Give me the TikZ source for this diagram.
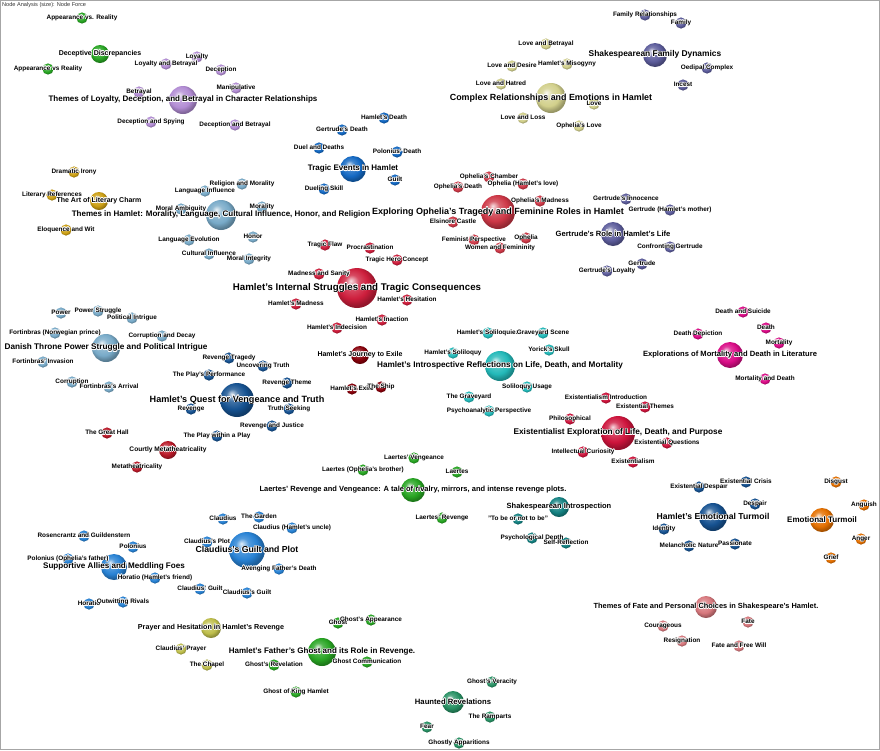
\documentclass[tikz,border=0pt]{standalone}
\usepackage{fontspec}
\setmainfont{Liberation Sans}
\usepackage{contour}
\contourlength{0.6pt}
\contournumber{12}
\pgfdeclarelayer{bg}
\pgfdeclarelayer{fg}
\pgfsetlayers{bg,main,fg}
\definecolor{cGreen}{RGB}{40,165,35}
\definecolor{cPurple}{RGB}{178,140,212}
\definecolor{cSteel}{RGB}{120,170,200}
\definecolor{cGold}{RGB}{205,160,20}
\definecolor{cBlue}{RGB}{20,105,195}
\definecolor{cRed}{RGB}{205,30,60}
\definecolor{cDarkRed}{RGB}{135,0,10}
\definecolor{cCyan}{RGB}{35,185,185}
\definecolor{cCrimson}{RGB}{205,20,60}
\definecolor{cMagenta}{RGB}{218,12,135}
\definecolor{cSlate}{RGB}{92,92,155}
\definecolor{cKhaki}{RGB}{210,208,140}
\definecolor{cRose}{RGB}{205,55,70}
\definecolor{cNavy}{RGB}{22,82,145}
\definecolor{cCourt}{RGB}{185,25,40}
\definecolor{cBright}{RGB}{40,130,212}
\definecolor{cOlive}{RGB}{190,190,75}
\definecolor{cSea}{RGB}{40,145,100}
\definecolor{cTeal}{RGB}{20,130,130}
\definecolor{cOrange}{RGB}{228,112,0}
\definecolor{cRosy}{RGB}{215,120,125}
\definecolor{cEdge}{RGB}{225,225,225}
\makeatletter
\pgfdeclareradialshading[tikz@ball]{sph}{\pgfpoint{-8bp}{9bp}}{%
  color(0bp)=(tikz@ball!15!white);
  color(9bp)=(tikz@ball!80!white);
  color(19bp)=(tikz@ball);
  color(27bp)=(tikz@ball!72!black);
  color(50bp)=(tikz@ball!72!black)}
\tikzset{sph color/.code={\colorlet{tikz@ball}{#1}\def\tikz@shading{sph}\tikz@addmode{\tikz@mode@shadetrue}}}
\makeatother
\tikzset{
  sphere/.style={circle, inner sep=0pt, draw=none},
  lbl/.style={inner sep=0pt, text=black},
  edge/.style={draw=cEdge, line width=0.6pt},
}
% name, x, y, radius, colour, font size, label
\newcommand\Nd[7]{%
  \node[sphere, minimum size=#4*2pt, sph color=#5] (#1) at (#2,#3) {};
  \begin{pgfonlayer}{fg}
    \node[lbl, font=\bfseries\fontsize{#6pt}{#6pt}\selectfont] (#1-l) at (#2,#3) {\contour{white}{#7}};
  \end{pgfonlayer}}
% small node: name, x, y, colour, label
\newcommand\Ns[5]{\Nd{#1}{#2}{#3}{5.6}{#4}{6.4}{#5}}
\begin{document}
\begin{tikzpicture}[x=1pt,y=-1pt]
\useasboundingbox (0,0) rectangle (880,750);
\fill[white] (0,0) rectangle (880,750);
\draw[black!35, line width=1pt] (0.5,0.5) rectangle (879.5,749.5);
\node[anchor=west, inner sep=0pt, text=black!80, font=\fontsize{5.6pt}{6pt}\selectfont] (cap) at (2,5.5) {Node Analysis (size): Node Force};

% green top-left
\Nd{dd}{100}{54}{9}{cGreen}{7}{Deceptive Discrepancies}
\Ns{avr1}{82}{18}{cGreen}{Appearance vs. Reality}
\Ns{avr2}{48}{69}{cGreen}{Appearance vs Reality}

% purple
\Nd{tl}{183}{100}{14}{cPurple}{8}{Themes of Loyalty, Deception, and Betrayal in Character Relationships}
\Ns{lab}{166}{64}{cPurple}{Loyalty and Betrayal}
\Ns{loy}{197}{57}{cPurple}{Loyalty}
\Ns{dec}{221}{70}{cPurple}{Deception}
\Ns{man}{236}{88}{cPurple}{Manipulative}
\Ns{bet}{139}{92}{cPurple}{Betrayal}
\Ns{das}{151}{122}{cPurple}{Deception and Spying}
\Ns{dab}{235}{125}{cPurple}{Deception and Betrayal}

% steel: themes in Hamlet
\Nd{th}{221}{215}{15}{cSteel}{8}{Themes in Hamlet: Morality, Language, Cultural Influence, Honor, and Religion}
\Ns{rm}{242}{184}{cSteel}{Religion and Morality}
\Ns{li}{205}{191}{cSteel}{Language Influence}
\Ns{ma}{181}{209}{cSteel}{Moral Ambiguity}
\Ns{mor}{262}{207}{cSteel}{Morality}
\Ns{hon}{253}{237}{cSteel}{Honor}
\Ns{le}{189}{240}{cSteel}{Language Evolution}
\Ns{ci}{209}{254}{cSteel}{Cultural Influence}
\Ns{mi}{249}{259}{cSteel}{Moral Integrity}

% gold
\Nd{lc}{99}{201}{9}{cGold}{7}{The Art of Literary Charm}
\Ns{di}{74}{172}{cGold}{Dramatic Irony}
\Ns{lr}{52}{195}{cGold}{Literary References}
\Ns{ew}{66}{230}{cGold}{Eloquence and Wit}

% tragic events
\Nd{te}{353}{169}{13}{cBlue}{8}{Tragic Events in Hamlet}
\Ns{hd}{384}{118}{cBlue}{Hamlet's Death}
\Ns{gd}{342}{130}{cBlue}{Gertrude's Death}
\Ns{dud}{319}{148}{cBlue}{Duel and Deaths}
\Ns{pd}{397}{152}{cBlue}{Polonius' Death}
\Ns{gui}{395}{180}{cBlue}{Guilt}
\Ns{ds}{324}{189}{cBlue}{Dueling Skill}

% internal struggles
\Nd{is}{357}{288}{20}{cRed}{9.7}{Hamlet's Internal Struggles and Tragic Consequences}
\Ns{tf}{325}{245}{cRed}{Tragic Flaw}
\Ns{pro}{370}{248}{cRed}{Procrastination}
\Ns{thc}{397}{260}{cRed}{Tragic Hero Concept}
\Ns{mas}{319}{274}{cRed}{Madness and Sanity}
\Ns{hm}{296}{304}{cRed}{Hamlet's Madness}
\Ns{hh}{407}{300}{cRed}{Hamlet's Hesitation}
\Ns{hi}{382}{320}{cRed}{Hamlet's Inaction}
\Ns{hin}{337}{328}{cRed}{Hamlet's Indecision}

% journey to exile
\Nd{je}{360}{355}{9}{cDarkRed}{7}{Hamlet's Journey to Exile}
\Ns{hx}{352}{389}{cDarkRed}{Hamlet's Exile}
\Ns{sh}{381}{387}{cDarkRed}{The Ship}

% introspective
\Nd{ir}{500}{366}{15}{cCyan}{8.2}{Hamlet's Introspective Reflections on Life, Death, and Mortality}
\Ns{hs1}{488}{333}{cCyan}{Hamlet's Soliloquies}
\Ns{gs}{543}{333}{cCyan}{Graveyard Scene}
\Ns{ys}{549}{350}{cCyan}{Yorick's Skull}
\Ns{hs2}{453}{353}{cCyan}{Hamlet's Soliloquy}
\Ns{su}{527}{387}{cCyan}{Soliloquy Usage}
\Ns{tg}{469}{397}{cCyan}{The Graveyard}
\Ns{pp}{489}{411}{cCyan}{Psychoanalytic Perspective}

% existentialist
\Nd{ex}{618}{433}{17}{cCrimson}{8.3}{Existentialist Exploration of Life, Death, and Purpose}
\Ns{eint}{606}{398}{cCrimson}{Existentialism Introduction}
\Ns{eth}{645}{407}{cCrimson}{Existential Themes}
\Ns{phi}{570}{419}{cCrimson}{Philosophical}
\Ns{icur}{583}{452}{cCrimson}{Intellectual Curiosity}
\Ns{eq}{667}{443}{cCrimson}{Existential Questions}
\Ns{exm}{633}{462}{cCrimson}{Existentialism}

% mortality
\Nd{mo}{730}{355}{13}{cMagenta}{7.6}{Explorations of Mortality and Death in Literature}
\Ns{das2}{743}{312}{cMagenta}{Death and Suicide}
\Ns{dea}{766}{328}{cMagenta}{Death}
\Ns{ddp}{698}{334}{cMagenta}{Death Depiction}
\Ns{mty}{779}{343}{cMagenta}{Mortality}
\Ns{mad}{765}{379}{cMagenta}{Mortality and Death}

% family dynamics
\Nd{fd}{655}{55}{12}{cSlate}{8.4}{Shakespearean Family Dynamics}
\Ns{fr}{645}{15}{cSlate}{Family Relationships}
\Ns{fam}{681}{23}{cSlate}{Family}
\Ns{oc}{707}{68}{cSlate}{Oedipal Complex}
\Ns{inc}{683}{85}{cSlate}{Incest}

% complex relationships
\Nd{cr}{551}{98}{15}{cKhaki}{8.9}{Complex Relationships and Emotions in Hamlet}
\Ns{lbt}{546}{44}{cKhaki}{Love and Betrayal}
\Ns{lde}{512}{66}{cKhaki}{Love and Desire}
\Ns{hmi}{567}{64}{cKhaki}{Hamlet's Misogyny}
\Ns{lha}{501}{84}{cKhaki}{Love and Hatred}
\Ns{lov}{594}{104}{cKhaki}{Love}
\Ns{llo}{523}{118}{cKhaki}{Love and Loss}
\Ns{olv}{579}{126}{cKhaki}{Ophelia's Love}

% ophelia
\Nd{op}{498}{212}{17}{cRose}{9}{Exploring Ophelia's Tragedy and Feminine Roles in Hamlet}
\Ns{och}{489}{177}{cRose}{Ophelia's Chamber}
\Ns{ode}{458}{187}{cRose}{Ophelia's Death}
\Ns{ohl}{523}{184}{cRose}{Ophelia (Hamlet's love)}
\Ns{oma}{540}{201}{cRose}{Ophelia's Madness}
\Ns{elc}{453}{222}{cRose}{Elsinore Castle}
\Ns{fp}{474}{240}{cRose}{Feminist Perspective}
\Ns{oph}{526}{238}{cRose}{Ophelia}
\Ns{wf}{500}{248}{cRose}{Women and Femininity}

% gertrude
\Nd{gr}{613}{234}{12}{cSlate}{7.6}{Gertrude's Role in Hamlet's Life}
\Ns{gin}{626}{199}{cSlate}{Gertrude's Innocence}
\Ns{ghm}{670}{210}{cSlate}{Gertrude (Hamlet's mother)}
\Ns{cg}{670}{247}{cSlate}{Confronting Gertrude}
\Ns{ger}{642}{264}{cSlate}{Gertrude}
\Ns{gl}{607}{271}{cSlate}{Gertrude's Loyalty}

% danish throne
\Nd{dt}{106}{348}{14}{cSteel}{8.2}{Danish Throne Power Struggle and Political Intrigue}
\Ns{pw}{61}{313}{cSteel}{Power}
\Ns{ps}{98}{311}{cSteel}{Power Struggle}
\Ns{pi}{132}{318}{cSteel}{Political Intrigue}
\Ns{fnp}{55}{333}{cSteel}{Fortinbras (Norwegian prince)}
\Ns{cad}{162}{336}{cSteel}{Corruption and Decay}
\Ns{fi}{43}{362}{cSteel}{Fortinbras' Invasion}
\Ns{cor}{72}{382}{cSteel}{Corruption}
\Ns{fa}{109}{387}{cSteel}{Fortinbras's Arrival}

% quest
\Nd{qv}{237}{400}{17}{cNavy}{9.1}{Hamlet's Quest for Vengeance and Truth}
\Ns{rt}{229}{358}{cNavy}{Revenge Tragedy}
\Ns{ut}{263}{366}{cNavy}{Uncovering Truth}
\Ns{ppf}{209}{375}{cNavy}{The Play's Performance}
\Ns{rth}{287}{383}{cNavy}{Revenge Theme}
\Ns{rev}{191}{409}{cNavy}{Revenge}
\Ns{ts}{289}{409}{cNavy}{Truth Seeking}
\Ns{rj}{272}{426}{cNavy}{Revenge and Justice}
\Ns{pwp}{217}{436}{cNavy}{The Play within a Play}

% courtly
\Nd{cm}{168}{450}{9}{cCourt}{6.6}{Courtly Metatheatricality}
\Ns{gh}{107}{433}{cCourt}{The Great Hall}
\Ns{mt}{137}{467}{cCourt}{Metatheatricality}

% laertes
\Nd{la}{413}{490}{12}{cGreen}{7.5}{Laertes' Revenge and Vengeance: A tale of rivalry, mirrors, and intense revenge plots.}
\Ns{lv}{414}{458}{cGreen}{Laertes' Vengeance}
\Ns{lob}{363}{470}{cGreen}{Laertes (Ophelia's brother)}
\Ns{lae}{457}{472}{cGreen}{Laertes}
\Ns{lr2}{442}{518}{cGreen}{Laertes' Revenge}

% claudius
\Nd{cl}{247}{550}{18}{cBright}{8.7}{Claudius's Guilt and Plot}
\Ns{gar}{259}{517}{cBright}{The Garden}
\Ns{cla}{223}{519}{cBright}{Claudius}
\Ns{chu}{292}{528}{cBright}{Claudius (Hamlet's uncle)}
\Ns{cpl}{207}{542}{cBright}{Claudius's Plot}
\Ns{afd}{279}{569}{cBright}{Avenging Father's Death}
\Ns{cg1}{200}{589}{cBright}{Claudius' Guilt}
\Ns{cg2}{247}{593}{cBright}{Claudius's Guilt}

% supportive allies
\Nd{sa}{114}{567}{13}{cBright}{8.1}{Supportive Allies and Meddling Foes}
\Ns{rg}{84}{536}{cBright}{Rosencrantz and Guildenstern}
\Ns{pol}{133}{547}{cBright}{Polonius}
\Ns{pof}{68}{559}{cBright}{Polonius (Ophelia's father)}
\Ns{hf}{155}{578}{cBright}{Horatio (Hamlet's friend)}
\Ns{hor}{89}{604}{cBright}{Horatio}
\Ns{owr}{123}{602}{cBright}{Outwitting Rivals}

% prayer
\Nd{ph}{211}{628}{10}{cOlive}{7.2}{Prayer and Hesitation in Hamlet's Revenge}
\Ns{cp}{181}{649}{cOlive}{Claudius' Prayer}
\Ns{ch}{207}{665}{cOlive}{The Chapel}

% ghost
\Nd{gho}{322}{652}{14}{cGreen}{8}{Hamlet's Father's Ghost and its Role in Revenge.}
\Ns{gst}{338}{623}{cGreen}{Ghost}
\Ns{gap}{371}{620}{cGreen}{Ghost's Appearance}
\Ns{grv}{274}{665}{cGreen}{Ghost's Revelation}
\Ns{gcm}{367}{662}{cGreen}{Ghost Communication}
\Ns{gkh}{296}{692}{cGreen}{Ghost of King Hamlet}

% haunted
\Nd{hr}{453}{702}{11}{cSea}{7.7}{Haunted Revelations}
\Ns{gv}{492}{682}{cSea}{Ghost's Veracity}
\Ns{ram}{490}{717}{cSea}{The Ramparts}
\Ns{fea}{427}{727}{cSea}{Fear}
\Ns{gap2}{459}{743}{cSea}{Ghostly Apparitions}

% shakespearean introspection
\Nd{si}{559}{507}{10}{cTeal}{7.5}{Shakespearean Introspection}
\Ns{tbe}{518}{519}{cTeal}{"To be or not to be"}
\Ns{pd2}{532}{538}{cTeal}{Psychological Depth}
\Ns{sr}{566}{543}{cTeal}{Self-Reflection}

% hamlet's emotional turmoil
\Nd{et}{713}{517}{14}{cNavy}{8.6}{Hamlet's Emotional Turmoil}
\Ns{edp}{699}{487}{cNavy}{Existential Despair}
\Ns{ecr}{746}{482}{cNavy}{Existential Crisis}
\Ns{dsp}{755}{504}{cNavy}{Despair}
\Ns{idn}{664}{529}{cNavy}{Identity}
\Ns{mn}{689}{546}{cNavy}{Melancholic Nature}
\Ns{pas}{735}{544}{cNavy}{Passionate}

% emotional turmoil (orange)
\Nd{eto}{822}{520}{12}{cOrange}{8}{Emotional Turmoil}
\Ns{dis}{836}{482}{cOrange}{Disgust}
\Ns{ang}{864}{505}{cOrange}{Anguish}
\Ns{anr}{861}{539}{cOrange}{Anger}
\Ns{gri}{831}{558}{cOrange}{Grief}

% fate
\Nd{fc}{706}{607}{11}{cRosy}{7.4}{Themes of Fate and Personal Choices in Shakespeare's Hamlet.}
\Ns{cou}{663}{626}{cRosy}{Courageous}
\Ns{fat}{748}{622}{cRosy}{Fate}
\Ns{res}{682}{641}{cRosy}{Resignation}
\Ns{ffw}{739}{646}{cRosy}{Fate and Free Will}

\begin{pgfonlayer}{bg}
\foreach \a/\b in {dd/avr1, dd/avr2, dd/tl,
  tl/lab, tl/loy, tl/dec, tl/man, tl/bet, tl/das, tl/dab, tl/th,
  th/rm, th/li, th/ma, th/mor, th/hon, th/le, th/ci, th/mi, th/lc, th/is,
  lc/di, lc/lr, lc/ew,
  te/hd, te/gd, te/dud, te/pd, te/gui, te/ds, te/is,
  is/tf, is/pro, is/thc, is/mas, is/hm, is/hh, is/hi, is/hin, is/je, is/ir, is/qv, is/op,
  je/hx, je/sh,
  ir/hs1, ir/gs, ir/ys, ir/hs2, ir/su, ir/tg, ir/pp, ir/ex,
  ex/eint, ex/eth, ex/phi, ex/icur, ex/eq, ex/exm, ex/mo, ex/si, ex/et,
  mo/das2, mo/dea, mo/ddp, mo/mty, mo/mad,
  fd/fr, fd/fam, fd/oc, fd/inc, fd/cr,
  cr/lbt, cr/lde, cr/hmi, cr/lha, cr/lov, cr/llo, cr/olv, cr/op,
  op/och, op/ode, op/ohl, op/oma, op/elc, op/fp, op/oph, op/wf, op/gr,
  gr/gin, gr/ghm, gr/cg, gr/ger, gr/gl,
  dt/pw, dt/ps, dt/pi, dt/fnp, dt/cad, dt/fi, dt/cor, dt/fa, dt/qv,
  qv/rt, qv/ut, qv/ppf, qv/rth, qv/rev, qv/ts, qv/rj, qv/pwp, qv/cm, qv/cl,
  cm/gh, cm/mt,
  la/lv, la/lob, la/lae, la/lr2, la/cl,
  cl/gar, cl/cla, cl/chu, cl/cpl, cl/afd, cl/cg1, cl/cg2, cl/sa, cl/ph, cl/gho,
  sa/rg, sa/pol, sa/pof, sa/hf, sa/hor, sa/owr,
  ph/cp, ph/ch,
  gho/gst, gho/gap, gho/grv, gho/gcm, gho/gkh, gho/hr,
  hr/gv, hr/ram, hr/fea, hr/gap2,
  si/tbe, si/pd2, si/sr,
  et/edp, et/ecr, et/dsp, et/idn, et/mn, et/pas, et/eto, et/fc,
  eto/dis, eto/ang, eto/anr, eto/gri,
  fc/cou, fc/fat, fc/res, fc/ffw}
  \draw[edge] (\a) -- (\b);
\end{pgfonlayer}
\end{tikzpicture}
\end{document}
